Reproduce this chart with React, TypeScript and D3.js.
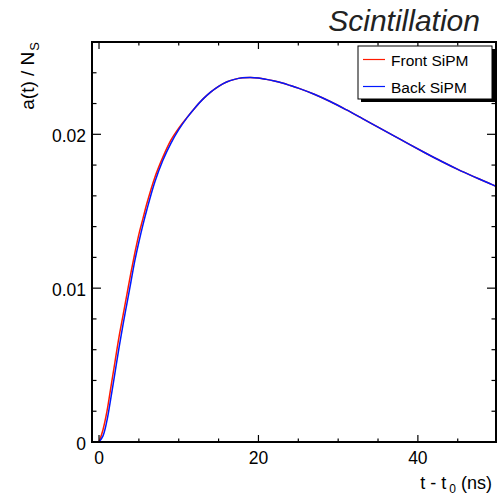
import React from "react";
import * as d3 from "d3";

const times = [0, 0.5, 1, 1.5, 2, 2.5, 3, 3.5, 4, 4.5, 5, 5.5, 6, 7, 8, 9, 10, 11, 12, 13, 14, 15, 16, 17, 18, 19, 20, 21, 22, 23, 24, 25, 27, 29, 31, 33, 35, 37, 39, 41, 43, 45, 47, 49, 49.8];
const backValues = [0, 0.0004, 0.0014, 0.0029, 0.0045, 0.0061, 0.0076, 0.009, 0.0104, 0.0118, 0.013, 0.0141, 0.0151, 0.0169, 0.0183, 0.0194, 0.0203, 0.02105, 0.0217, 0.02227, 0.02274, 0.02312, 0.0234, 0.02357, 0.02367, 0.0237, 0.02366, 0.02357, 0.02346, 0.02333, 0.02317, 0.023, 0.0226, 0.02213, 0.0216, 0.02104, 0.02047, 0.0199, 0.01933, 0.01877, 0.01823, 0.01772, 0.01725, 0.0168, 0.01662];
const frontValues = [0, 0.0008, 0.002, 0.0036, 0.0052, 0.0068, 0.0082, 0.0096, 0.011, 0.0123, 0.0135, 0.0145, 0.0155, 0.0172, 0.0185, 0.0196, 0.0204, 0.02107, 0.0217, 0.02227, 0.02274, 0.02312, 0.0234, 0.02357, 0.02367, 0.0237, 0.02366, 0.02357, 0.02346, 0.02333, 0.02317, 0.023, 0.0226, 0.02213, 0.0216, 0.02104, 0.02047, 0.0199, 0.01933, 0.01877, 0.01823, 0.01772, 0.01725, 0.0168, 0.01662];

const xMajorTicks = [0, 20, 40];
const xMinorTicks = [5, 10, 15, 25, 30, 35, 45];
const yMajorTicks = [0, 0.01, 0.02];
const yMajorLabels = ["0", "0.01", "0.02"];
const yMinorTicks = [0.002, 0.004, 0.006, 0.008, 0.012, 0.014, 0.016, 0.018, 0.022, 0.024];

const seriesNames = ["Front SiPM", "Back SiPM"];
const seriesColors = ["#ff1a00", "#0018ff"];

const W = 500, H = 496;
const L = 92, R = 496, T = 42, B = 442;
const FONT = "'Liberation Sans', Arial, Helvetica, sans-serif";

export default function App() {
  const x = d3.scaleLinear().domain([-0.88, 49.8]).range([L, R]);
  const y = d3.scaleLinear().domain([0, 0.026]).range([B, T]);
  const line = d3
    .line<number>()
    .x((_, i) => x(times[i]))
    .y((d) => y(d))
    .curve(d3.curveCatmullRom.alpha(0.5));
  const series = [frontValues, backValues];

  return (
    <svg width={W} height={H} style={{ position: "absolute", left: 0, top: 0, background: "#fff" }} fontFamily={FONT}>
      <rect x={0} y={0} width={W} height={H} fill="#fff" />
      <defs>
        <clipPath id="plotclip">
          <rect x={L} y={T} width={R - L} height={B - T} />
        </clipPath>
      </defs>

      {/* curves */}
      <g clipPath="url(#plotclip)">
        {series.map((vals, k) => (
          <path key={k} d={line(vals) || ""} fill="none" stroke={seriesColors[k]} strokeWidth={1.5} />
        ))}
      </g>

      {/* ticks */}
      <g stroke="#000" strokeWidth={1.2}>
        {xMajorTicks.map((t) => (
          <g key={"xM" + t}>
            <line x1={x(t)} x2={x(t)} y1={B} y2={B - 7} />
            <line x1={x(t)} x2={x(t)} y1={T} y2={T + 7} />
          </g>
        ))}
        {xMinorTicks.map((t) => (
          <g key={"xm" + t}>
            <line x1={x(t)} x2={x(t)} y1={B} y2={B - 3.5} />
            <line x1={x(t)} x2={x(t)} y1={T} y2={T + 3.5} />
          </g>
        ))}
        {yMajorTicks.map((v) => (
          <g key={"yM" + v}>
            <line x1={L} x2={L + 9} y1={y(v)} y2={y(v)} />
            <line x1={R} x2={R - 9} y1={y(v)} y2={y(v)} />
          </g>
        ))}
        {yMinorTicks.map((v) => (
          <g key={"ym" + v}>
            <line x1={L} x2={L + 4.5} y1={y(v)} y2={y(v)} />
            <line x1={R} x2={R - 4.5} y1={y(v)} y2={y(v)} />
          </g>
        ))}
      </g>

      {/* frame */}
      <rect x={L} y={T} width={R - L} height={B - T} fill="none" stroke="#000" strokeWidth={2} />

      {/* tick labels */}
      <g fontSize={17.5} fill="#000">
        {xMajorTicks.map((t) => (
          <text key={"xl" + t} x={x(t)} y={463.5} textAnchor="middle">
            {String(t)}
          </text>
        ))}
        {yMajorTicks.map((v, i) => (
          <text key={"yl" + v} x={86} y={y(v) + 7.5} textAnchor="end">
            {yMajorLabels[i]}
          </text>
        ))}
      </g>

      {/* axis titles */}
      <text x={492} y={489} textAnchor="end" fontSize={18} fill="#000">
        <tspan>t - t</tspan>
        <tspan dx={3} dy={4} fontSize={12}>0</tspan>
        <tspan dy={-4}> (ns)</tspan>
      </text>
      <text transform="translate(34,42) rotate(-90)" textAnchor="end" fontSize={19} fill="#000">
        <tspan>a(t) / N</tspan>
        <tspan dx={1} dy={5} fontSize={13}>S</tspan>
      </text>

      {/* title */}
      <text x={480} y={30.5} textAnchor="end" fontSize={30} fontStyle="italic" fill="#222">
        Scintillation
      </text>

      {/* legend */}
      <rect x={361} y={49} width={134} height={53} fill="#000" />
      <rect x={358} y={46} width={134} height={53} fill="#fff" stroke="#000" strokeWidth={1} />
      {seriesNames.map((name, k) => {
        const cy = 59.5 + k * 27;
        return (
          <g key={name}>
            <line x1={363} x2={385} y1={cy} y2={cy} stroke={seriesColors[k]} strokeWidth={1.2} />
            <text x={391} y={cy + 6} fontSize={15.5} fill="#000">
              {name}
            </text>
          </g>
        );
      })}
    </svg>
  );
}
